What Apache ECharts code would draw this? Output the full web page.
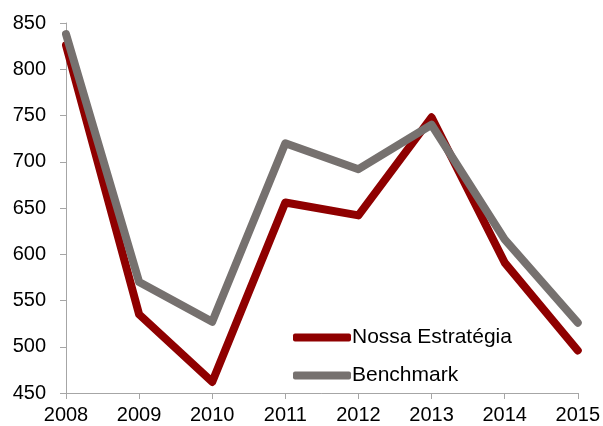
<!DOCTYPE html>
<html><head><meta charset="utf-8">
<script src="https://cdn.jsdelivr.net/npm/echarts@6/dist/echarts.min.js"></script>
<style>html,body{margin:0;padding:0;background:#fff}#c{width:603px;height:426px}</style>
</head><body><div id="c"></div>
<script>
const years = ['2008','2009','2010','2011','2012','2013','2014','2015'];
const nossa = [826, 535, 462, 656, 642, 748, 591, 496];
const benchmark = [838, 570, 527, 720, 692, 740, 616, 526];
const seriesNames = ['Nossa Estratégia', 'Benchmark'];
const yTicks = {min: 450, max: 850, interval: 50};

const chart = echarts.init(document.getElementById('c'), null, {renderer: 'canvas'});
const font = 'Liberation Sans, Arial, sans-serif';
chart.setOption({
  animation: false,
  grid: {left: 66, right: 25, top: 23, bottom: 33, containLabel: false},
  legend: {
    orient: 'vertical', left: 288, top: 322, itemGap: 17, padding: 5,
    itemWidth: 58, itemHeight: 8, icon: 'roundRect',
    textStyle: {fontFamily: font, fontSize: 21, color: '#000', lineHeight: 21, padding: [0,0,0,-4]},
    data: seriesNames
  },
  xAxis: {
    type: 'category', data: years, boundaryGap: false,
    axisLine: {lineStyle: {color: '#a6a6a6', width: 1}},
    axisTick: {show: true, length: 6, inside: false, lineStyle: {color: '#a6a6a6'}},
    axisLabel: {fontFamily: font, fontSize: 20, color: '#000', margin: 12},
    splitLine: {show: false}
  },
  yAxis: {
    type: 'value', min: yTicks.min, max: yTicks.max, interval: yTicks.interval,
    axisLine: {show: true, lineStyle: {color: '#a6a6a6', width: 1}},
    axisTick: {show: true, length: 6, lineStyle: {color: '#a6a6a6'}},
    axisLabel: {fontFamily: font, fontSize: 20, color: '#000', margin: 20},
    splitLine: {show: false}
  },
  series: [
    {name: seriesNames[0], type: 'line', data: nossa, showSymbol: false, symbol: 'none',
     color: '#8f0000', lineStyle: {width: 8, color: '#8f0000', cap: 'round', join: 'round'}},
    {name: seriesNames[1], type: 'line', data: benchmark, showSymbol: false, symbol: 'none',
     color: '#76716f', lineStyle: {width: 8, color: '#76716f', cap: 'round', join: 'round'}}
  ]
});
</script></body></html>
